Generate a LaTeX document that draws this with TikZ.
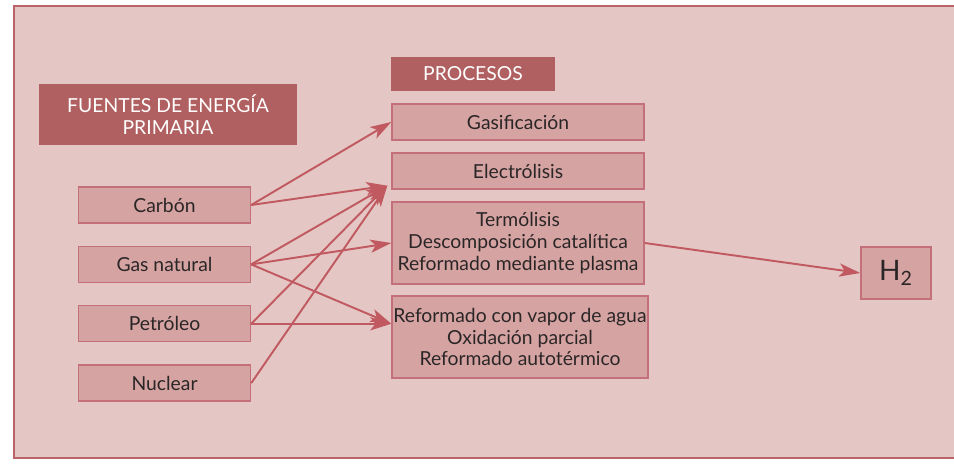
\documentclass[tikz,border=0pt]{standalone}
\usepackage{fontspec}
\setmainfont{Lato}
\usetikzlibrary{positioning, arrows.meta}
\definecolor{panelfill}{HTML}{E4C6C4}
\definecolor{panelline}{HTML}{B96468}
\definecolor{boxfill}{HTML}{D6A3A3}
\definecolor{boxline}{HTML}{C4707A}
\definecolor{headfill}{HTML}{B06060}
\definecolor{arrowred}{HTML}{C05A60}
\definecolor{textgray}{HTML}{2B2626}
\tikzset{
x=0.02cm, y=-0.02cm, % one unit is one pixel of the layout
>={Stealth[length=12pt, width=7.5pt, inset=3pt]}, % filled arrow heads
node distance=0.44cm, % gap between the source boxes
every node/.style={font=\fontsize{11}{12.3}\selectfont, text=textgray, inner sep=0pt}, % common text
box/.style={draw=boxline, fill=boxfill, line width=0.8pt, align=center}, % light boxes
head/.style={fill=headfill, text=white, align=center}, % dark title boxes
source/.style={box, minimum width=3.44cm, minimum height=0.72cm}, % energy sources
process/.style={box, minimum width=5.04cm, minimum height=0.72cm}, % processes
flow/.style={->, draw=arrowred, line width=1.1pt}, % connectors
}
\begin{document}
\begin{tikzpicture}
    \useasboundingbox (0,0) rectangle (954,476);
    \draw[fill=panelfill, draw=panelline, line width=1.2pt] (14,6) rectangle (960,458);
    \node[head, minimum width=5.16cm, minimum height=1.22cm] (fuentes) at (168,114.5) {FUENTES DE ENERGÍA\\PRIMARIA};
    \node[head, minimum width=3.28cm, minimum height=0.70cm] (procesos) at (473,74) {PROCESOS};
    \node[source] (carbon) at (164.5,205) {Carbón};
    \node[source, below=of carbon] (gas) {Gas natural};
    \node[source, below=of gas] (petro) {Petróleo};
    \node[source, below=of petro] (nuclear) {Nuclear};
    \node[process] (gasif) at (518,122) {Gasificación};
    \node[process] (electro) at (518,171) {Electrólisis};
    \node[process, minimum height=1.64cm] (termo) at (518,243) {Termólisis\\Descomposición catalítica\\Reformado mediante plasma};
    \node[process, minimum width=5.12cm, minimum height=1.64cm] (reform) at (520,337) {Reformado con vapor de agua\\Oxidación parcial\\Reformado autotérmico};
    \node[box, minimum width=1.4cm, minimum height=1.04cm, font=\fontsize{16}{18}\selectfont] (h2) at (896,273) {H\textsubscript{2}};
    \coordinate (elec) at ([shift={(-4,-4)}]electro.south west);
    \coordinate (refin) at (reform.west |- petro.east);
    \path
        (carbon.east) edge[flow] (gasif.west)
        (carbon.east) edge[flow] (elec)
        (gas.east) edge[flow] (elec)
        (gas.east) edge[flow] (termo.west)
        (gas.east) edge[flow] (refin)
        (petro.east) edge[flow] (elec)
        (petro.east) edge[flow] (refin)
        (nuclear.east) edge[flow] (elec)
        (termo.east) edge[flow] (h2.west)
        ;
\end{tikzpicture}
\end{document}
